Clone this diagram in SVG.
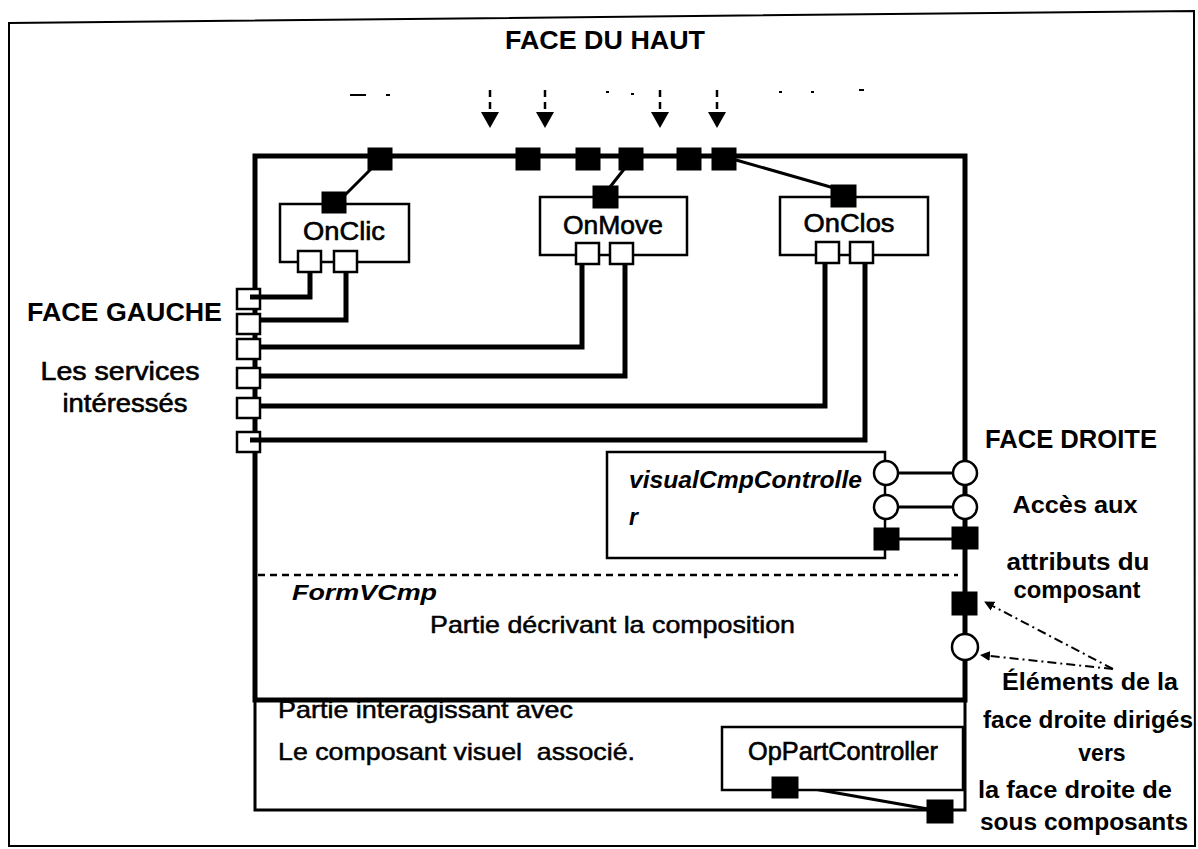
<svg xmlns="http://www.w3.org/2000/svg" width="1198" height="849" viewBox="0 0 1198 849">
<defs>
<style>
text{font-family:"Liberation Sans",Arial,sans-serif;fill:#000}
.hdr{font-weight:bold;font-size:25px}
.lbl{font-size:25px;stroke:#000;stroke-width:0.6}
.reg{stroke:#000;stroke-width:0.5}
.rt{font-weight:bold;font-size:23px}
.thick{fill:none;stroke:#000;stroke-width:5;stroke-linejoin:miter}
.med{fill:none;stroke:#000;stroke-width:3}
.box{fill:#fff;stroke:#000;stroke-width:2.5}
.pw{fill:#fff;stroke:#000;stroke-width:2.5}
.pb{fill:#000;stroke:#000;stroke-width:1}
.dash{fill:none;stroke:#000;stroke-width:2.5;stroke-dasharray:7 5}
.dd{fill:none;stroke:#000;stroke-width:2;stroke-dasharray:9 4 2 4}
</style>
<marker id="ah" markerWidth="10" markerHeight="10" refX="9" refY="5" orient="auto" markerUnits="userSpaceOnUse" viewBox="0 0 10 10">
<path d="M0,0 L10,5 L0,10 Z" fill="#000"/>
</marker>
</defs>
<rect width="1198" height="849" fill="#fff"/>
<path d="M9,23 L1194,11 L1195,846 L9,846 Z" fill="none" stroke="#000" stroke-width="2"/>

<g id="titles">
<text class="hdr" x="605" y="49" text-anchor="middle" textLength="200" lengthAdjust="spacingAndGlyphs">FACE DU HAUT</text>
<text class="hdr" x="27" y="321" textLength="195" lengthAdjust="spacingAndGlyphs">FACE GAUCHE</text>
<text class="lbl" x="120" y="380" text-anchor="middle" font-size="24" textLength="159" lengthAdjust="spacingAndGlyphs">Les services</text>
<text class="lbl" x="125" y="412" text-anchor="middle" font-size="24" textLength="125" lengthAdjust="spacingAndGlyphs">intéressés</text>
<text class="hdr" x="985" y="448" textLength="172" lengthAdjust="spacingAndGlyphs">FACE DROITE</text>
<text class="rt" x="1075" y="513" text-anchor="middle" textLength="125" lengthAdjust="spacingAndGlyphs">Accès aux</text>
<text class="rt" x="1078" y="570" text-anchor="middle" textLength="143" lengthAdjust="spacingAndGlyphs">attributs du</text>
<text class="rt" x="1077" y="598" text-anchor="middle" textLength="127" lengthAdjust="spacingAndGlyphs">composant</text>
<text class="rt" x="1090" y="690" text-anchor="middle" textLength="176" lengthAdjust="spacingAndGlyphs">Éléments de la</text>
<text class="rt" x="1088" y="728" text-anchor="middle" textLength="210" lengthAdjust="spacingAndGlyphs">face droite dirigés</text>
<text class="rt" x="1102" y="761" text-anchor="middle">vers</text>
<text class="rt" x="1075" y="798" text-anchor="middle" textLength="194" lengthAdjust="spacingAndGlyphs">la face droite de</text>
<text class="rt" x="1084" y="830" text-anchor="middle" textLength="208" lengthAdjust="spacingAndGlyphs">sous composants</text>
</g>

<g id="top-arrows">
<path class="dash" d="M490,90 V113 M545,90 V113 M660,90 V113 M717,90 V113"/>
<path d="M481,112 L499,112 L490,128 Z M536,112 L554,112 L545,128 Z M651,112 L669,112 L660,128 Z M708,112 L726,112 L717,128 Z" fill="#000"/>
<path d="M350,95 H366 M386,95 H390 M606,92 H609 M631,94 H634 M779,92 H782 M811,92 H814 M859,90 H864" stroke="#000" stroke-width="2"/>
</g>

<g id="FormVCmp">
<text class="reg" x="278" y="718" font-size="24" textLength="295" lengthAdjust="spacingAndGlyphs">Partie interagissant avec</text>
<rect x="255" y="156" width="710" height="544" class="thick"/>
<rect x="255" y="700" width="710" height="110" fill="none" stroke="#000" stroke-width="3"/>
<line x1="258" y1="575" x2="958" y2="575" class="dash" stroke-width="2"/>
<text x="292" y="600" font-size="22" font-weight="bold" font-style="italic" textLength="145" lengthAdjust="spacingAndGlyphs">FormVCmp</text>
<text class="reg" x="430" y="633" font-size="24" textLength="365" lengthAdjust="spacingAndGlyphs">Partie décrivant la composition</text>
<text class="reg" x="278" y="760" font-size="24" textLength="357" lengthAdjust="spacingAndGlyphs" xml:space="preserve">Le composant visuel  associé.</text>
</g>

<g id="connectors">
<path class="thick" d="M310,272 V297 H250 M346,272 V320 H260 M582,264 V347 H260 M625,264 V376 H260 M825,264 V406 H260 M865,264 V440 H250"/>
<path class="med" d="M345,195 L372,168 M610,187 L625,168 M736,160 L834,188" stroke-width="4"/>
<path class="med" d="M897,473 H953 M897,507 H953 M899,539 H952"/>
<path class="med" d="M797,786 L928,809"/>
<path class="dd" d="M1113,669 L985,602" marker-end="url(#ah)"/>
<path class="dd" d="M1113,669 L981,655" marker-end="url(#ah)"/>
</g>

<g id="top-ports">
<rect class="pb" x="368" y="148" width="24" height="22"/>
<rect class="pb" x="516" y="148" width="24" height="22"/>
<rect class="pb" x="576" y="148" width="24" height="22"/>
<rect class="pb" x="619" y="148" width="24" height="22"/>
<rect class="pb" x="677" y="148" width="24" height="22"/>
<rect class="pb" x="712" y="148" width="24" height="22"/>
</g>

<g id="left-ports">
<rect class="pw" x="237" y="289" width="23" height="20"/>
<rect class="pw" x="237" y="314" width="23" height="20"/>
<rect class="pw" x="237" y="339" width="23" height="20"/>
<rect class="pw" x="237" y="368" width="23" height="20"/>
<rect class="pw" x="237" y="398" width="23" height="20"/>
<rect class="pw" x="237" y="432" width="23" height="20"/>
<path class="thick" d="M260,297 H250 M260,440 H250"/>
</g>

<g id="OnClic">
<rect class="box" x="280" y="204" width="129" height="58"/>
<text class="lbl" x="344" y="240" text-anchor="middle" textLength="82" lengthAdjust="spacingAndGlyphs">OnClic</text>
<rect class="pb" x="322" y="192" width="24" height="21"/>
<rect class="pw" x="298" y="251" width="23" height="21"/>
<rect class="pw" x="334" y="251" width="23" height="21"/>
</g>

<g id="OnMove">
<rect class="box" x="540" y="197" width="147" height="58"/>
<text class="lbl" x="613" y="234" text-anchor="middle" textLength="100" lengthAdjust="spacingAndGlyphs">OnMove</text>
<rect class="pb" x="593" y="186" width="25" height="22"/>
<rect class="pw" x="576" y="243" width="23" height="21"/>
<rect class="pw" x="610" y="243" width="23" height="21"/>
</g>

<g id="OnClos">
<rect class="box" x="780" y="197" width="148" height="58"/>
<text class="lbl" x="849" y="232" text-anchor="middle" textLength="91" lengthAdjust="spacingAndGlyphs">OnClos</text>
<rect class="pb" x="831" y="185" width="25" height="22"/>
<rect class="pw" x="816" y="242" width="23" height="21"/>
<rect class="pw" x="850" y="242" width="23" height="21"/>
</g>

<g id="visualCmpController">
<rect class="box" x="607" y="452" width="278" height="106"/>
<text x="629" y="488" font-size="23" font-weight="bold" font-style="italic" textLength="233" lengthAdjust="spacingAndGlyphs">visualCmpControlle</text>
<text x="629" y="525" font-size="23" font-weight="bold" font-style="italic">r</text>
<circle class="pw" cx="886" cy="473" r="12"/>
<circle class="pw" cx="886" cy="507" r="12"/>
<rect class="pb" x="874" y="528" width="25" height="22"/>
</g>

<g id="right-ports">
<circle class="pw" cx="965" cy="473" r="12"/>
<circle class="pw" cx="965" cy="507" r="12"/>
<rect class="pb" x="952" y="527" width="26" height="22"/>
<rect class="pb" x="952" y="592" width="25" height="23"/>
<circle class="pw" cx="965" cy="647" r="13"/>
</g>

<g id="OpPartController">
<rect class="box" x="722" y="727" width="241" height="63"/>
<text class="lbl" x="843" y="760" text-anchor="middle" font-size="24" textLength="190" lengthAdjust="spacingAndGlyphs">OpPartController</text>
<rect class="pb" x="772" y="777" width="26" height="21"/>
<rect class="pb" x="927" y="800" width="26" height="23"/>
</g>
</svg>
